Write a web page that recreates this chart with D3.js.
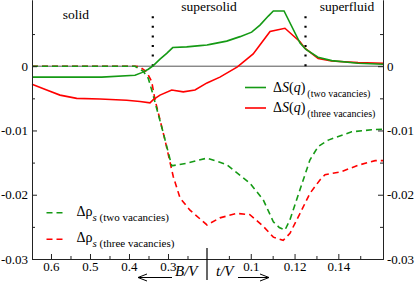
<!DOCTYPE html>
<html><head><meta charset="utf-8">
<script src="https://cdn.jsdelivr.net/npm/d3@7/dist/d3.min.js"></script>
<style>
body{margin:0;background:#fff;}
svg text{font-family:'Liberation Serif','Times New Roman',Times,serif;}
</style></head>
<body><svg id="c" width="415" height="282" font-family="Liberation Serif"></svg>
<script>
// ---- tick values ----
const yTicks = [0, -0.01, -0.02, -0.03];
const yMinor = [0.005, -0.005, -0.015, -0.025];
const bvTicks = [0.6, 0.5, 0.4, 0.3];
const bvMinor = [0.55, 0.45, 0.35, 0.25];
const tvTicks = [0.1, 0.12, 0.14];
const tvMinor = [0.09, 0.11, 0.13, 0.15];
// phase boundaries
const bvBoundary = 0.339;
const tvBoundary = 0.125;
const phaseLabels = ["solid", "supersolid", "superfluid"];

// ---- series: [parameter, value] ; B/V branch then t/V branch ----
const dS2_bv = [[0.6487,-0.0017],[0.47,-0.0017],[0.3846,-0.0014],[0.3674,-0.0010],[0.3505,-0.00047],[0.3377,0.0001],[0.3205,0.0011],[0.3033,0.0020],[0.2879,0.0029],[0.2521,0.0030],[0.2179,0.0032],[0.2,0.0033]];
const dS2_tv = [[0.0814,0.0034],[0.0890,0.0039],[0.0951,0.0046],[0.1004,0.0053],[0.1042,0.0064],[0.1080,0.0078],[0.1103,0.0086],[0.1152,0.0086],[0.1225,0.0036],[0.1252,0.0026],[0.1307,0.0014],[0.1370,0.00087],[0.149,0.00047],[0.1604,0.0003]];

const dS3_bv = [[0.6487,-0.0028],[0.611,-0.0037],[0.5769,-0.0045],[0.5341,-0.0050],[0.4744,-0.0051],[0.4059,-0.0053],[0.3718,-0.0055],[0.3462,-0.0057],[0.3377,-0.0052],[0.3205,-0.0045],[0.2905,-0.0037],[0.2608,-0.0040],[0.2308,-0.0037],[0.2,-0.0026]];
const dS3_tv = [[0.0859,-0.0017],[0.0939,-0.0001],[0.1011,0.0019],[0.1088,0.0054],[0.1156,0.0059],[0.1225,0.0038],[0.1247,0.0028],[0.1308,0.0012],[0.1369,0.0008],[0.1490,0.00056],[0.1604,0.00047]];

const drho2_bv = [[0.6487,0],[0.3846,0],[0.3633,-0.0008],[0.3505,-0.0019],[0.3418,-0.0037],[0.3120,-0.0104],[0.2905,-0.0155],[0.2521,-0.0151],[0.2,-0.0143]];
const drho2_tv = [[0.0890,-0.0153],[0.0996,-0.0182],[0.1057,-0.0208],[0.1103,-0.0242],[0.1130,-0.0251],[0.1156,-0.0255],[0.1179,-0.0239],[0.1225,-0.0192],[0.1270,-0.0146],[0.1308,-0.0125],[0.1354,-0.0115],[0.1461,-0.0102],[0.1552,-0.0099],[0.1604,-0.0098]];

const drho3_bv = [[0.6487,0],[0.3846,0],[0.3718,-0.0001],[0.3546,-0.0009],[0.3418,-0.0024],[0.3333,-0.0052],[0.3077,-0.0115],[0.2864,-0.0172],[0.2692,-0.0205],[0.2436,-0.0224],[0.2,-0.0247]];
const drho3_tv = [[0.0859,-0.0236],[0.0936,-0.0229],[0.0996,-0.0231],[0.1057,-0.0249],[0.1103,-0.0266],[0.1148,-0.0271],[0.1179,-0.0260],[0.1225,-0.0229],[0.1270,-0.0198],[0.1316,-0.0177],[0.1339,-0.0169],[0.1415,-0.0164],[0.1491,-0.0154],[0.1568,-0.0147],[0.1604,-0.0147]];

const GREEN = "#159a15", RED = "#ff0000", INK = "#222";
const SERIF = "'Liberation Serif','Times New Roman',Times,serif";

const svg = d3.select("#c");
const L = 32, R = 383, T = 0, B = 259, MID = 207;
const xB = d3.scaleLinear().domain([0.6487, 0.2]).range([L, MID]);
const xT = d3.scaleLinear().domain([0.08, 0.1604]).range([MID, R]);
const y = d3.scaleLinear().domain([-0.03, 0.0103]).range([B, T]);

function pts(bv, tv){
  return bv.map(d => [xB(d[0]), y(d[1])]).concat(tv.map(d => [xT(d[0]), y(d[1])]));
}
const line = d3.line();

// zero line
svg.append("line").attr("x1", L).attr("x2", R).attr("y1", y(0)).attr("y2", y(0))
  .attr("stroke", "#555").attr("stroke-width", 1);

// phase boundaries (dotted)
[xB(bvBoundary), xT(tvBoundary)].forEach(xx => {
  svg.append("line").attr("x1", xx).attr("x2", xx).attr("y1", y(0)).attr("y2", y(0.008))
    .attr("stroke", "#000").attr("stroke-width", 2.2).attr("stroke-dasharray", "2,7.6");
});

// curves
function draw(bv, tv, color, dashed){
  svg.append("path").attr("d", line(pts(bv, tv))).attr("fill", "none")
    .attr("stroke", color).attr("stroke-width", 1.6)
    .attr("stroke-dasharray", dashed ? "6,4" : null);
}
draw(drho3_bv, drho3_tv, RED, true);
draw(drho2_bv, drho2_tv, GREEN, true);
draw(dS3_bv, dS3_tv, RED, false);
draw(dS2_bv, dS2_tv, GREEN, false);

// axes
const fmtY = d => d === 0 ? "0" : d.toFixed(2);
function styleAxis(g){
  g.attr("font-family", SERIF).attr("font-size", 13);
  g.selectAll("path,line").attr("stroke", INK);
  g.selectAll("text").attr("fill", "#000").attr("font-family", SERIF).attr("font-size", 13);
}
svg.append("g").attr("transform", `translate(${L},0)`)
  .call(d3.axisLeft(y).tickValues(yTicks).tickFormat(fmtY).tickSizeInner(-5).tickSizeOuter(0).tickPadding(4)).call(styleAxis);
svg.append("g").attr("transform", `translate(${L},0)`)
  .call(d3.axisLeft(y).tickValues(yMinor).tickFormat("").tickSizeInner(-3).tickSizeOuter(0)).call(styleAxis);
svg.append("g").attr("transform", `translate(${R},0)`)
  .call(d3.axisRight(y).tickValues(yTicks).tickFormat(fmtY).tickSizeInner(-5).tickSizeOuter(0).tickPadding(4)).call(styleAxis);
svg.append("g").attr("transform", `translate(${R},0)`)
  .call(d3.axisRight(y).tickValues(yMinor).tickFormat("").tickSizeInner(-3).tickSizeOuter(0)).call(styleAxis);

svg.append("g").attr("transform", `translate(0,${B})`)
  .call(d3.axisBottom(xB).tickValues(bvTicks).tickFormat(d => String(d)).tickSizeInner(-5).tickSizeOuter(0).tickPadding(3)).call(styleAxis);
svg.append("g").attr("transform", `translate(0,${B})`)
  .call(d3.axisBottom(xB).tickValues(bvMinor).tickFormat("").tickSizeInner(-3).tickSizeOuter(0)).call(styleAxis);
svg.append("g").attr("transform", `translate(0,${B})`)
  .call(d3.axisBottom(xT).tickValues(tvTicks).tickFormat(d => String(d)).tickSizeInner(-5).tickSizeOuter(0).tickPadding(3)).call(styleAxis);
svg.append("g").attr("transform", `translate(0,${B})`)
  .call(d3.axisBottom(xT).tickValues(tvMinor).tickFormat("").tickSizeInner(-3).tickSizeOuter(0)).call(styleAxis);

// divider between the two x branches
svg.append("line").attr("x1", MID).attr("x2", MID).attr("y1", 248).attr("y2", 280)
  .attr("stroke", "#000").attr("stroke-width", 1.2);

function txt(x, yy, size){
  return svg.append("text").attr("x", x).attr("y", yy).attr("font-family", SERIF).attr("font-size", size).attr("fill", "#000");
}
// axis titles and arrows
txt(175, 276, 15).attr("font-style", "italic").text("B/V");
txt(216, 276, 15).attr("font-style", "italic").text("t/V");
function arrow(x1, x2, yy){
  const dir = Math.sign(x2 - x1);
  svg.append("line").attr("x1", x1).attr("x2", x2).attr("y1", yy).attr("y2", yy).attr("stroke", "#000").attr("stroke-width", 1);
  svg.append("path").attr("d", `M${x2 - dir*9},${yy-3.5}L${x2},${yy}L${x2 - dir*9},${yy+3.5}`)
    .attr("fill", "none").attr("stroke", "#000").attr("stroke-width", 1);
}
arrow(172, 138, 277.5);
arrow(238, 269, 277.5);

// phase labels
txt(76, 18.5, 13.5).attr("text-anchor", "middle").text(phaseLabels[0]);
txt(209, 10.5, 13.5).attr("text-anchor", "middle").text(phaseLabels[1]);
txt(347, 10.5, 13.5).attr("text-anchor", "middle").text(phaseLabels[2]);

// legend: ΔS(q)
function legendS(yy, color, sub){
  svg.append("line").attr("x1", 245).attr("x2", 266).attr("y1", yy).attr("y2", yy).attr("stroke", color).attr("stroke-width", 1.6);
  const t = txt(273, yy + 4, 14);
  t.append("tspan").text("Δ");
  t.append("tspan").attr("font-style", "italic").text("S");
  t.append("tspan").text("(");
  t.append("tspan").attr("font-style", "italic").text("q");
  t.append("tspan").text(")");
  t.append("tspan").attr("dx", 2).attr("dy", 5).attr("font-size", 10).text(sub);
}
legendS(87.5, GREEN, "(two vacancies)");
legendS(108, RED, "(three vacancies)");

// legend: Δρs
function legendRho(yy, color, sub){
  svg.append("line").attr("x1", 46.5).attr("x2", 64).attr("y1", yy).attr("y2", yy).attr("stroke", color)
    .attr("stroke-width", 1.6).attr("stroke-dasharray", "6,4");
  const t = txt(76.5, yy + 3, 14);
  t.append("tspan").text("Δρ");
  t.append("tspan").attr("dy", 5).attr("font-size", 11).attr("font-style", "italic").text("s");
  t.append("tspan").attr("font-size", 11).text(" " + sub);
}
legendRho(212.7, GREEN, "(two vacancies)");
legendRho(239.3, RED, "(three vacancies)");
</script></body></html>
